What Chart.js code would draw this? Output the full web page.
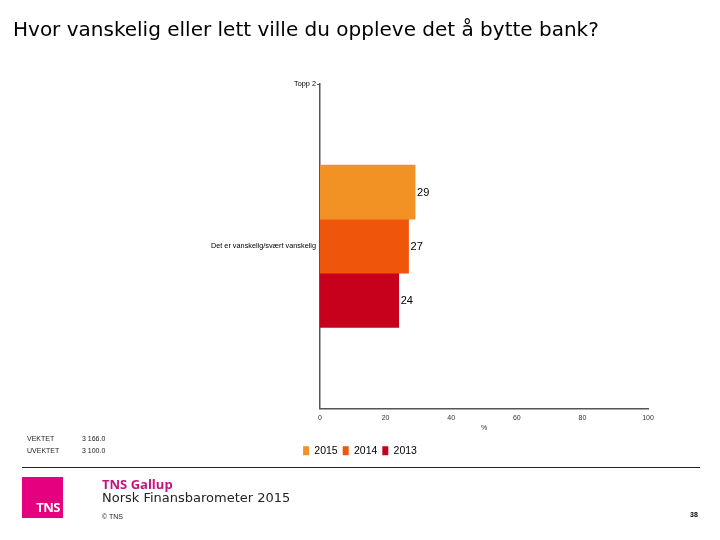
<!DOCTYPE html>
<html>
<head>
<meta charset="utf-8">
<script src="https://cdn.jsdelivr.net/npm/chart.js@4/dist/chart.umd.min.js"></script>
<style>
  body { margin: 0; background: #fff; }
  #page { position: relative; width: 720px; height: 540px; overflow: hidden; font-family: "DejaVu Sans", Verdana, sans-serif; }
  #chartBox { position: absolute; left: 0; top: 0; width: 720px; height: 540px; }
  .abs { position: absolute; white-space: nowrap; }
  #title { left: 13px; top: 17px; font-size: 20px; color: #000; }
  .w { font-family: "Liberation Sans", Arial, sans-serif; font-size: 7px; color: #222; }
  #rule { left: 22px; top: 467px; width: 678px; height: 1px; background: #222; }
  #logo { left: 22px; top: 477px; width: 41px; height: 41px; background: #e4007e; }
  #logo span { position: absolute; right: 3px; bottom: 2px; color: #fff; font-family: "Open Sans", sans-serif; font-weight: bold; font-size: 13px; letter-spacing: -0.5px; }
  #brand { left: 102px; top: 475px; font-family: "Open Sans", sans-serif; font-weight: bold; font-size: 13px; color: #c2157f; }
  #sub { left: 102px; top: 490px; font-size: 13px; color: #222; }
  #copy { left: 102px; top: 513px; font-family: "Liberation Sans", Arial, sans-serif; font-size: 7px; color: #222; }
  #pageNo { left: 690px; top: 511px; font-family: "Liberation Sans", Arial, sans-serif; font-size: 7px; font-weight: bold; color: #000; }
</style>
</head>
<body>
<div id="page">
  <div id="chartBox"><canvas id="chart"></canvas></div>
  <div class="abs" id="title">Hvor vanskelig eller lett ville du oppleve det å bytte bank?</div>
  <div class="abs w" style="left:27px;top:435px">VEKTET</div>
  <div class="abs w" style="left:82px;top:435px">3 166.0</div>
  <div class="abs w" style="left:27px;top:447px">UVEKTET</div>
  <div class="abs w" style="left:82px;top:447px">3 100.0</div>
  <div class="abs" id="rule"></div>
  <div class="abs" id="logo"><span>TNS</span></div>
  <div class="abs" id="brand">TNS Gallup</div>
  <div class="abs" id="sub">Norsk Finansbarometer 2015</div>
  <div class="abs" id="copy">© TNS</div>
  <div class="abs" id="pageNo">38</div>
</div>
<script>
// categories (first and last are empty slots so the group sits mid-axis)
const categories = ['Topp 2', 'Det er vanskelig/svært vanskelig', ''];
const seriesNames = ['2015', '2014', '2013'];
const values2015 = [null, 29, null];
const values2014 = [null, 27, null];
const values2013 = [null, 24, null];
const xTicks = [0, 20, 40, 60, 80, 100];

const colors = ['#f39224', '#ef560b', '#c7001b'];

// draw numbers at the end of each bar
const barValueLabels = {
    id: 'barValueLabels',
    afterDatasetsDraw(chart) {
        const ctx = chart.ctx;
        ctx.save();
        ctx.font = '11px "Liberation Sans", Arial, sans-serif';
        ctx.fillStyle = '#000';
        ctx.textBaseline = 'middle';
        ctx.textAlign = 'left';
        chart.data.datasets.forEach((ds, di) => {
            const meta = chart.getDatasetMeta(di);
            meta.data.forEach((bar, i) => {
                const v = ds.data[i];
                if (v == null) return;
                ctx.fillText(String(v), bar.x + 2, bar.y + 1);
            });
        });
        ctx.restore();
    }
};

const chart = new Chart(document.getElementById('chart'), {
    type: 'bar',
    plugins: [barValueLabels],
    data: {
        labels: categories,
        datasets: [
            { label: seriesNames[0], data: values2015, backgroundColor: colors[0] },
            { label: seriesNames[1], data: values2014, backgroundColor: colors[1] },
            { label: seriesNames[2], data: values2013, backgroundColor: colors[2] },
        ]
    },
    options: {
        indexAxis: 'y',
        responsive: true,
        maintainAspectRatio: false,
        animation: false,
        events: [],
        layout: { padding: { left: 72, right: 72, top: 84, bottom: 74 } },
        datasets: { bar: { categoryPercentage: 1, barPercentage: 1, borderWidth: 0 } },
        scales: {
            x: {
                min: 0, max: 100,
                afterBuildTicks(scale) { scale.ticks = xTicks.map(v => ({ value: v })); },
                afterFit(scale) { scale.height = 32; },
                grid: { display: false, drawTicks: false },
                border: { display: true, color: '#555', width: 1.5 },
                ticks: {
                    color: '#333', padding: 5,
                    font: { family: '"Liberation Sans", Arial, sans-serif', size: 7 }
                },
                title: {
                    display: true, text: '%', color: '#333', padding: { top: 3, bottom: 8 },
                    font: { family: '"Liberation Sans", Arial, sans-serif', size: 7 }
                }
            },
            y: {
                offset: false,
                afterFit(scale) { scale.width = 248; },
                grid: {
                    offset: false, drawOnChartArea: false, drawTicks: true, tickLength: 3,
                    color: ctx => ctx.index === 0 ? '#555' : 'rgba(0,0,0,0)'
                },
                border: { display: true, color: '#555', width: 1.5 },
                ticks: {
                    color: '#000', padding: 1,
                    font: { family: '"Liberation Sans", Arial, sans-serif', size: 7.3 }
                }
            }
        },
        plugins: {
            legend: {
                position: 'bottom',
                labels: {
                    boxWidth: 6, boxHeight: 9, padding: 5, color: '#000',
                    font: { family: '"Liberation Sans", Arial, sans-serif', size: 10.5 }
                }
            },
            tooltip: { enabled: false },
            title: { display: false }
        }
    }
});
</script>
</body>
</html>
